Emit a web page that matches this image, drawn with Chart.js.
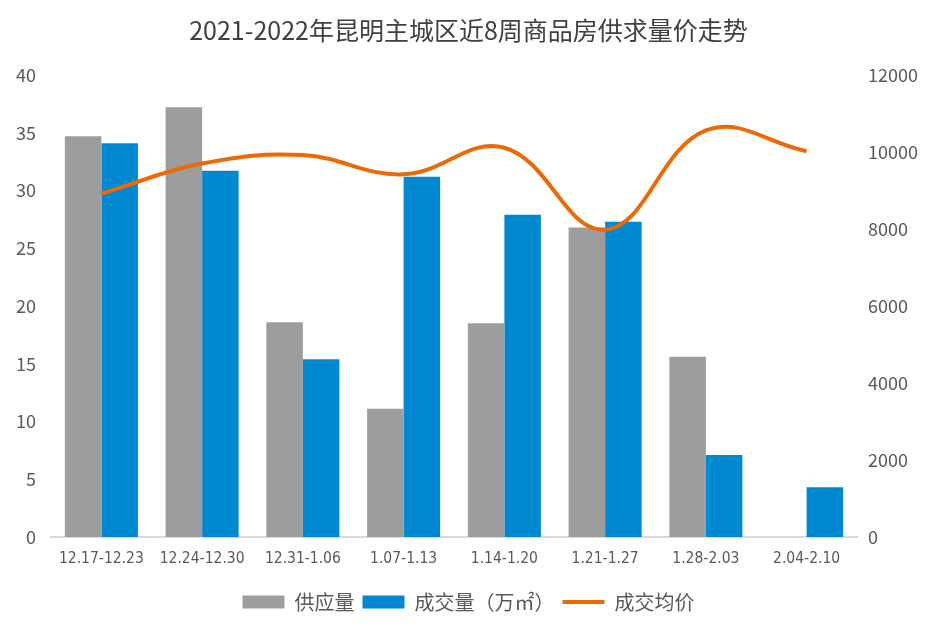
<!DOCTYPE html>
<html>
<head>
<meta charset="utf-8">
<script src="https://cdn.jsdelivr.net/npm/chart.js@4.4.1/dist/chart.umd.min.js"></script>
<style>
  html, body { margin:0; padding:0; background:#fff; }
  #wrap { width:937px; height:636px; position:relative; }
</style>
</head>
<body>
<div id="wrap"><canvas id="c"></canvas></div>
<script>
// 昆明主城区 近8周 供求量价
const weeks      = ['12.17-12.23','12.24-12.30','12.31-1.06','1.07-1.13','1.14-1.20','1.21-1.27','1.28-2.03','2.04-2.10'];
const supplyArea = [34.7, 37.2, 18.6, 11.1, 18.5, 26.8, 15.6, null];   // 供应量
const dealArea   = [34.1, 31.7, 15.4, 31.2, 27.9, 27.3, 7.1, 4.3];     // 成交量（万㎡）
const avgPrice   = [8920, 9700, 9920, 9420, 10110, 7980, 10560, 10020]; // 成交均价

const CJK    = '"Noto Sans CJK SC", "Noto Sans", sans-serif';
const NARROW = '"DejaVu Sans Condensed", "Noto Sans", sans-serif';

new Chart(document.getElementById('c'), {
  data: {
    labels: weeks,
    datasets: [
      { type:'bar', label:'供应量', data:supplyArea, yAxisID:'y',
        backgroundColor:'#9c9d9f', borderWidth:0, order:1,
        categoryPercentage:0.725, barPercentage:1 },
      { type:'bar', label:'成交量（万㎡）', data:dealArea, yAxisID:'y',
        backgroundColor:'#0088d1', borderWidth:0, order:1,
        categoryPercentage:0.725, barPercentage:1 },
      { type:'line', label:'成交均价', data:avgPrice, yAxisID:'y1',
        borderColor:'#ec6a06', backgroundColor:'#ec6a06', borderWidth:4,
        pointRadius:0, tension:0.4, order:0 },
    ],
  },
  options: {
    responsive:true, maintainAspectRatio:false, animation:false,
    layout: { padding:{ left:0, right:0, top:0, bottom:14 } },
    plugins: {
      title: {
        display:true, text:'2021-2022年昆明主城区近8周商品房供求量价走势',
        color:'#404040', font:{ family:CJK, size:25, weight:'normal' },
        padding:{ top:15, bottom:30 },
      },
      legend: {
        position:'bottom',
        labels: {
          color:'#595959', font:{ family:CJK, size:20 },
          usePointStyle:true, pointStyleWidth:42, boxHeight:13, padding:8,
          sort:(a,b) => a.datasetIndex - b.datasetIndex,
          generateLabels: chart => {
            const items = Chart.defaults.plugins.legend.labels.generateLabels(chart);
            items.forEach(it => {
              const ds = chart.data.datasets[it.datasetIndex];
              if (ds.type === 'bar') { it.pointStyle = 'rect'; it.lineWidth = 0; }
              else { it.pointStyle = 'line'; it.lineWidth = 4; }
            });
            return items;
          },
        },
      },
      tooltip: { enabled:false },
    },
    scales: {
      x: {
        grid:{ display:false, drawTicks:false },
        border:{ display:true, color:'#d9d9d9', width:2 },
        ticks:{ color:'#595959', font:{ family:NARROW, size:15.5 }, padding:13, maxRotation:0, autoSkip:false },
        afterFit: s => { s.height = 47; },
      },
      y: {
        position:'left', min:0, max:40,
        grid:{ display:false, drawTicks:false }, border:{ display:false },
        ticks:{ stepSize:5, color:'#595959', font:{ family:CJK, size:18 }, padding:15 },
        afterFit: s => { s.width = 51; },
      },
      y1: {
        position:'right', min:0, max:12000,
        grid:{ display:false, drawTicks:false }, border:{ display:false },
        ticks:{ stepSize:2000, color:'#595959', font:{ family:CJK, size:18 }, padding:11,
                callback: v => String(v) },
        afterFit: s => { s.width = 80; },
      },
    },
  },
});
</script>
</body>
</html>
